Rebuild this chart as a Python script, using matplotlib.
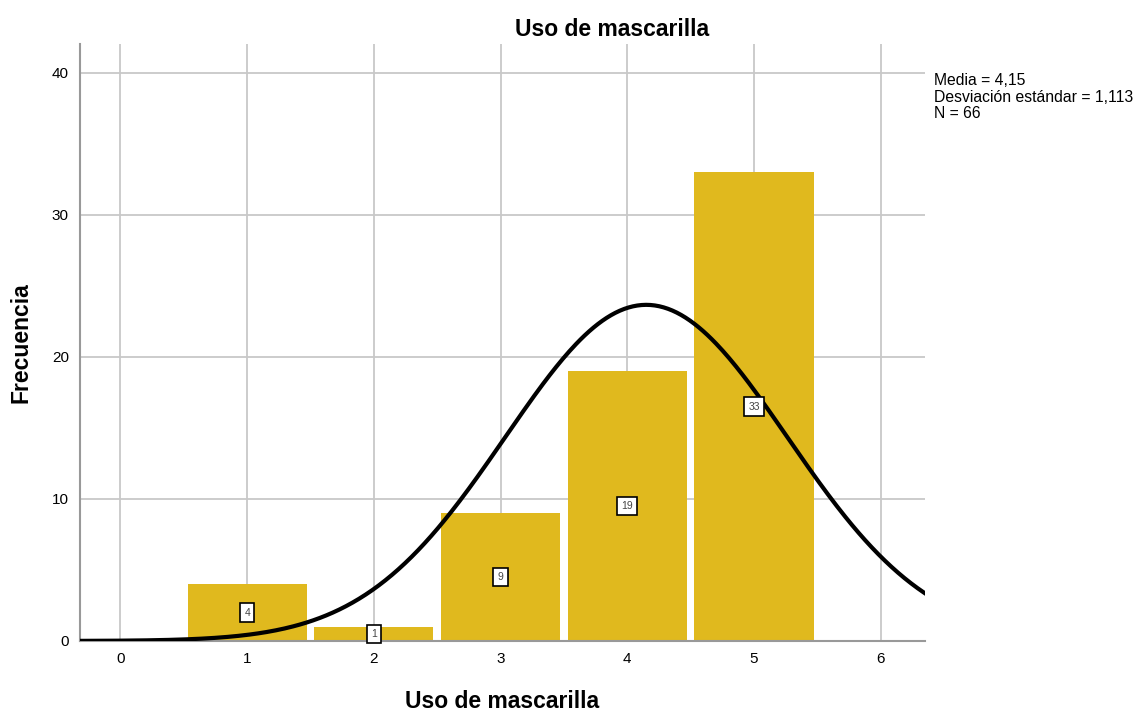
import matplotlib.pyplot as plt
import numpy as np

plt.rcParams['font.family'] = ['Liberation Sans', 'DejaVu Sans']

# data
categories = [1, 2, 3, 4, 5]
counts = [4, 1, 9, 19, 33]
mean_val = 4.15
std_val = 1.113
n_total = 66

BAR_COLOR = '#E0B91E'
GRID_COLOR = '#C8C8C8'

fig = plt.figure(figsize=(11.42, 7.13), dpi=100)
ax = fig.add_axes([0.070, 0.101, 0.740, 0.837])

ax.bar(categories, counts, width=0.94, color=BAR_COLOR,
       edgecolor='none', zorder=2)

for x, c in zip(categories, counts):
    ax.text(x, c / 2, str(c), ha='center', va='center', fontsize=7.5,
            color='#444444', zorder=5,
            bbox=dict(boxstyle='square,pad=0.4', facecolor='white',
                      edgecolor='black', linewidth=1.2))

# normal curve scaled to counts
xs = np.linspace(-0.4, 6.5, 400)
ys = n_total * np.exp(-(xs - mean_val) ** 2 / (2 * std_val ** 2)) / (std_val * np.sqrt(2 * np.pi))
ax.plot(xs, ys, color='black', linewidth=3, zorder=4)

ax.set_xlim(-0.32, 6.35)
ax.set_ylim(0, 42)
ax.set_xticks(range(0, 7))
ax.set_yticks([0, 10, 20, 30, 40])
ax.tick_params(length=0, labelsize=11, pad=8)
ax.grid(True, color=GRID_COLOR, linewidth=1.3, zorder=0)
ax.set_axisbelow(True)

for s in ['top', 'right']:
    ax.spines[s].set_visible(False)
ax.spines['left'].set_color('#999999')
ax.spines['left'].set_linewidth(1.5)
ax.spines['bottom'].set_color('#999999')
ax.spines['bottom'].set_linewidth(1.5)

fig.text(0.536, 0.958, 'Uso de mascarilla', ha='center', va='center',
         fontsize=16.5, fontweight='bold')
ax.set_xlabel('Uso de mascarilla', fontsize=16.5, fontweight='bold', labelpad=17)
ax.set_ylabel('Frecuencia', fontsize=16.5, fontweight='bold', labelpad=14)

fig.text(0.818, 0.897,
         f'Media = {mean_val:.2f}'.replace('.', ',') + '\n'
         + f'Desviación estándar = {std_val:.3f}'.replace('.', ',') + '\n'
         + f'N = {n_total}',
         ha='left', va='top', fontsize=11.3, linespacing=1.12)

plt.savefig('out.png', dpi=100)
